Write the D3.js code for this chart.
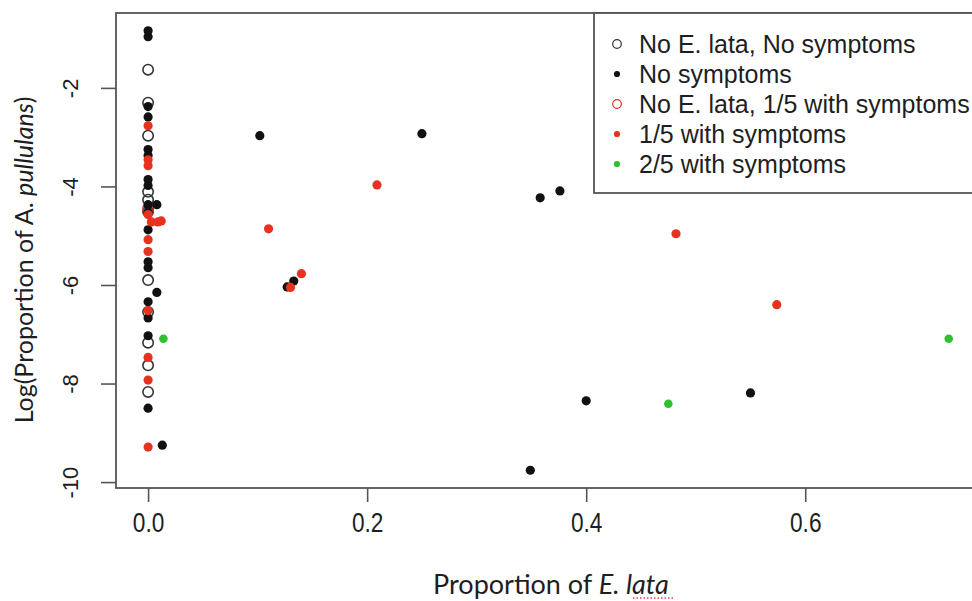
<!DOCTYPE html>
<html>
<head>
<meta charset="utf-8">
<script src="https://cdn.jsdelivr.net/npm/d3@7/dist/d3.min.js"></script>
<style>
  html, body { margin: 0; padding: 0; background: #fff; }
  svg { display: block; }
</style>
</head>
<body>
<svg id="chart" width="972" height="601"></svg>
<script>
// Proportion of E. lata (x) vs log proportion of A. pullulans (y), by symptom group

// No E. lata, No symptoms (open black circles)
const noLataNoSymX = [0, 0, 0, 0, 0, 0, 0, 0, 0, 0, 0];
const noLataNoSymY = [-1.63, -2.30, -2.97, -4.11, -4.27, -4.51, -5.90, -6.55, -7.17, -7.63, -8.17];

// No E. lata, 1/5 with symptoms (open red circles)
const noLataSymX = [0];
const noLataSymY = [-4.45];

// No symptoms (filled black)
const noSymX = [0, 0, 0, 0, 0, 0, 0, 0, 0, 0, 0, 0, 0, 0, 0, 0, 0,
  0.008, 0.008, 0.013,
  0.102, 0.250, 0.358, 0.376, 0.133, 0.127, 0.400, 0.550, 0.349];
const noSymY = [-0.84, -0.96, -2.38, -2.59, -3.25, -3.37, -3.86, -3.98, -4.37, -4.52, -4.88, -5.53, -5.65, -6.34, -6.67, -7.03, -8.50,
  -4.37, -6.15, -9.25,
  -2.97, -2.93, -4.23, -4.09, -5.92, -6.04, -8.35, -8.19, -9.76];

// 1/5 with symptoms (filled red)
const sym1X = [0, 0, 0, 0, 0.003, 0.009, 0.012, 0, 0, 0, 0, 0, 0,
  0.209, 0.110, 0.140, 0.130, 0.482, 0.574];
const sym1Y = [-2.77, -3.46, -3.58, -4.57, -4.72, -4.72, -4.70, -5.08, -5.32, -6.52, -7.47, -7.93, -9.29,
  -3.97, -4.86, -5.77, -6.05, -4.96, -6.40];

// 2/5 with symptoms (filled green)
const sym2X = [0.014, 0.475, 0.731];
const sym2Y = [-7.09, -8.41, -7.09];

const xTicks = [0, 0.2, 0.4, 0.6];
const yTicks = [-10, -8, -6, -4, -2];

const legendLabels = [
  "No E. lata, No symptoms",
  "No symptoms",
  "No E. lata, 1/5 with symptoms",
  "1/5 with symptoms",
  "2/5 with symptoms"
];

const BLACK = "#111111";
const RED = "#e5331f";
const GREEN = "#2ec02e";
const FRAME = "#555555";
const TEXT = "#1e1e1e";

const svg = d3.select("#chart");
const plot = { left: 116, right: 983, top: 13, bottom: 488 };

const x = d3.scaleLinear().domain([-0.0293, 0.7623]).range([plot.left, plot.right]);
const y = d3.scaleLinear().domain([-10.12, -0.48]).range([plot.bottom, plot.top]);

// axes
const xAxis = d3.axisBottom(x).tickValues(xTicks).tickFormat(d => d.toFixed(1)).tickSize(14).tickSizeOuter(0);
const yAxis = d3.axisLeft(y).tickValues(yTicks).tickFormat(d => String(d)).tickSize(15).tickSizeOuter(0);

const gx = svg.append("g").attr("transform", `translate(0,${plot.bottom})`).call(xAxis);
gx.select(".domain").remove();
gx.selectAll(".tick line").attr("stroke", FRAME).attr("stroke-width", 1.6);
// narrow, tall tick numerals
gx.selectAll(".tick text")
  .attr("y", null).attr("dy", null)
  .attr("transform", "translate(0,44) scale(0.84,1)")
  .attr("font-family", "'Liberation Sans', Arial, sans-serif")
  .attr("font-size", 27)
  .attr("fill", TEXT);

const gy = svg.append("g").attr("transform", `translate(${plot.left},0)`).call(yAxis);
gy.select(".domain").remove();
gy.selectAll(".tick line").attr("stroke", FRAME).attr("stroke-width", 1.6);
gy.selectAll(".tick text")
  .attr("x", null).attr("dy", null)
  .attr("text-anchor", "middle")
  .attr("transform", "translate(-46,0) rotate(-90)")
  .attr("dy", "0.35em")
  .attr("font-family", "'Liberation Sans', Arial, sans-serif")
  .attr("font-size", 22)
  .attr("fill", TEXT);

// points: open circles first, then filled groups on top
const pts = (xs, ys) => xs.map((v, i) => ({ x: v, y: ys[i] }));

svg.append("g").selectAll("circle").data(pts(noLataNoSymX, noLataNoSymY)).join("circle")
  .attr("cx", d => x(d.x)).attr("cy", d => y(d.y)).attr("r", 5.2)
  .attr("fill", "none").attr("stroke", "#333").attr("stroke-width", 1.6);

svg.append("g").selectAll("circle").data(pts(noLataSymX, noLataSymY)).join("circle")
  .attr("cx", d => x(d.x)).attr("cy", d => y(d.y)).attr("r", 5.2)
  .attr("fill", "none").attr("stroke", RED).attr("stroke-width", 1.6);

svg.append("g").selectAll("circle").data(pts(noSymX, noSymY)).join("circle")
  .attr("cx", d => x(d.x)).attr("cy", d => y(d.y)).attr("r", 4.6)
  .attr("fill", BLACK);

svg.append("g").selectAll("circle").data(pts(sym1X, sym1Y)).join("circle")
  .attr("cx", d => x(d.x)).attr("cy", d => y(d.y)).attr("r", 4.6)
  .attr("fill", RED);

svg.append("g").selectAll("circle").data(pts(sym2X, sym2Y)).join("circle")
  .attr("cx", d => x(d.x)).attr("cy", d => y(d.y)).attr("r", 4.3)
  .attr("fill", GREEN);

// plot frame
svg.append("rect")
  .attr("x", plot.left).attr("y", plot.top)
  .attr("width", plot.right - plot.left).attr("height", plot.bottom - plot.top)
  .attr("fill", "none").attr("stroke", FRAME).attr("stroke-width", 1.8);

// legend (top right, against the frame)
const legend = svg.append("g");
legend.append("rect")
  .attr("x", 594).attr("y", plot.top)
  .attr("width", plot.right - 594).attr("height", 193 - plot.top)
  .attr("fill", "#fff").attr("stroke", FRAME).attr("stroke-width", 1.8);

const legendMarks = [
  { fill: "none", stroke: "#333", r: 4.3 },
  { fill: BLACK, stroke: "none", r: 3.1 },
  { fill: "none", stroke: RED, r: 4.3 },
  { fill: RED, stroke: "none", r: 3.1 },
  { fill: GREEN, stroke: "none", r: 3.1 }
];

const rows = legend.selectAll("g.row").data(legendLabels).join("g")
  .attr("class", "row")
  .attr("transform", (d, i) => `translate(0,${44 + i * 30})`);
rows.append("circle")
  .attr("cx", 617).attr("cy", 0)
  .attr("r", (d, i) => legendMarks[i].r)
  .attr("fill", (d, i) => legendMarks[i].fill)
  .attr("stroke", (d, i) => legendMarks[i].stroke)
  .attr("stroke-width", 1.2);
rows.append("text")
  .attr("x", 639).attr("y", 0).attr("dy", "0.36em")
  .attr("font-family", "'Liberation Sans', Arial, sans-serif")
  .attr("font-size", 25)
  .attr("fill", TEXT)
  .text(d => d);

// axis titles
const xTitle = svg.append("text")
  .attr("x", 551).attr("y", 594)
  .attr("text-anchor", "middle")
  .attr("font-family", "Lato, 'Open Sans', sans-serif")
  .attr("font-size", 27)
  .attr("fill", TEXT);
xTitle.append("tspan").text("Proportion of ");
xTitle.append("tspan").attr("font-style", "italic").text("E. lata");

const yTitle = svg.append("text")
  .attr("transform", "translate(33,260) rotate(-90)")
  .attr("text-anchor", "middle")
  .attr("font-family", "Lato, 'Open Sans', sans-serif")
  .attr("font-size", 25)
  .attr("fill", TEXT);
yTitle.append("tspan").text("Log(Proportion of A. ");
yTitle.append("tspan").attr("font-style", "italic").text("pullulans");
yTitle.append("tspan").text(")");

// dotted red underline beneath "lata"
svg.append("line")
  .attr("x1", 633).attr("x2", 674).attr("y1", 598).attr("y2", 598)
  .attr("stroke", "#e04040").attr("stroke-width", 1.5).attr("stroke-dasharray", "1.5,2");
</script>
</body>
</html>
